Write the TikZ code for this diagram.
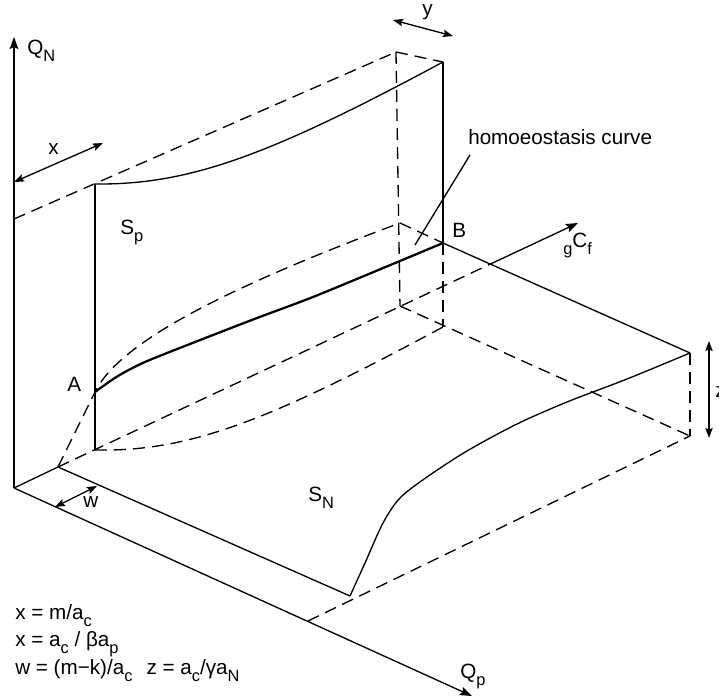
\documentclass[tikz,border=0pt]{standalone}
\usepackage{fontspec}
\setmainfont{Liberation Sans}
\usetikzlibrary{arrows.meta}
\newcommand\lsub[1]{\raisebox{-0.3em}{\fontsize{12.3}{13}\selectfont #1}}
\begin{document}
\begin{tikzpicture}[x=0.75pt,y=-0.75pt,
  ln/.style={line width=1pt},
  hid/.style={line width=1pt, dash pattern=on 9pt off 5.25pt},
  homeo/.style={line width=1.7pt},
  tip/.style={-{Stealth[length=9pt,width=6.5pt,inset=1.5pt]}},
  dim/.style={{Stealth[length=7.5pt,width=5.5pt,inset=1.2pt]}-{Stealth[length=7.5pt,width=5.5pt,inset=1.2pt]}, line width=1pt},
  lbl/.style={inner sep=0pt, anchor=base west, font=\fontsize{15.5}{18}\selectfont}]
\useasboundingbox (0,0) rectangle (719,698);
% key points
\coordinate (O) at (14,488);
\coordinate (QNtip) at (14,37);
\coordinate (Qptip) at (472,696);
\coordinate (P1) at (58,467);
\coordinate (Q) at (95,450);
\coordinate (X) at (490.5,264);
\coordinate (gtip) at (578,223);
\coordinate (Wtop) at (95,184);
\coordinate (A) at (95,392);
\coordinate (NT) at (14,219);
\coordinate (Tc) at (396,52);
\coordinate (Tb) at (400,306);
\coordinate (Mc) at (400,223);
\coordinate (Btop) at (443,62);
\coordinate (B) at (443,243);
\coordinate (Bb) at (443,327);
\coordinate (R) at (690,353);
\coordinate (Rb) at (690,436);
\coordinate (Pa) at (308,621);
\coordinate (Pn) at (350,596);
\coordinate (L1) at (470,155);
\coordinate (L2) at (415,245);
% axes
\draw[ln,tip] (O) -- (QNtip);
\draw[ln,tip] (O) -- (Qptip);
\draw[ln] (O) -- (P1);
\draw[hid] (P1) -- (X);
\draw[ln,tip] (X) -- (gtip);
% straight edges
\draw[ln] (P1) -- (Pn);
\draw[ln] (Wtop) -- (Q);
\draw[hid] (NT) -- (Tc);
\draw[hid] (Tc) -- (Btop);
\draw[hid] (Tc) -- (Tb);
\draw[ln] (Btop) -- (B);
\draw[hid] (Mc) -- (B);
\draw[hid] (B) -- (Bb);
\draw[hid] (Tb) -- (Rb);
\draw[hid] (R) -- (Rb);
\draw[ln] (B) -- (R);
\draw[hid] (Pa) -- (Rb);
% curves
\draw[ln] (Wtop) .. controls (190,185) and (270,155) .. (Btop);
\draw[hid] (Q) .. controls (190,452) and (270,420) .. (Bb);
\draw[hid] (P1) -- (A) .. controls (118,345) and (215,292) .. (Mc);
\draw[homeo] plot[smooth, tension=0.5] coordinates {(A) (118,376) (145,362) (190,344) (257,318) (313,297) (400,261) (B)};
\draw[ln] plot[smooth, tension=0.5] coordinates {(Pn) (365,563) (383,523) (400,498) (427,477) (467,451) (517,424) (567,402) (627,379) (R)};
\draw[ln] (L1) -- (L2);
% dimension arrows
\coordinate (xa) at (14,182); \coordinate (xb) at (103,143);
\coordinate (ya) at (393,20); \coordinate (yb) at (453,36);
\coordinate (wa) at (55,507); \coordinate (wb) at (97,486);
\coordinate (za) at (709,341); \coordinate (zb) at (709,438);
\draw[dim] (xa) -- (xb);
\draw[dim] (ya) -- (yb);
\draw[dim] (wa) -- (wb);
\draw[dim] (za) -- (zb);
% labels
\node[lbl] (tQN) at (27,55) {Q\lsub{N}};
\node[lbl] (tx) at (48,155) {x};
\node[lbl] (ty) at (422,16) {y};
\node[lbl] (tSp) at (120,235) {S\lsub{p}};
\node[lbl] (thc) at (468,145) {homoeostasis curve};
\node[lbl] (tB) at (452,238) {B};
\node[lbl] (tg) at (563,248) {\lsub{g}C\lsub{f}};
\node[lbl] (tA) at (67,392) {A};
\node[lbl] (tw) at (83,508) {w};
\node[lbl] (tSN) at (308,502) {S\lsub{N}};
\node[lbl] (tQp) at (460,679) {Q\lsub{p}};
\node[lbl] (tz) at (715,398) {z};
\node[lbl] (e1) at (15,620) {x = m/a\lsub{c}};
\node[lbl] (e2) at (15,647) {x = a\lsub{c} / βa\lsub{p}};
\node[lbl] (e3) at (15,675) {w = (m−k)/a\lsub{c}\hspace{0.4em} z = a\lsub{c}/γa\lsub{N}};
\end{tikzpicture}
\end{document}
